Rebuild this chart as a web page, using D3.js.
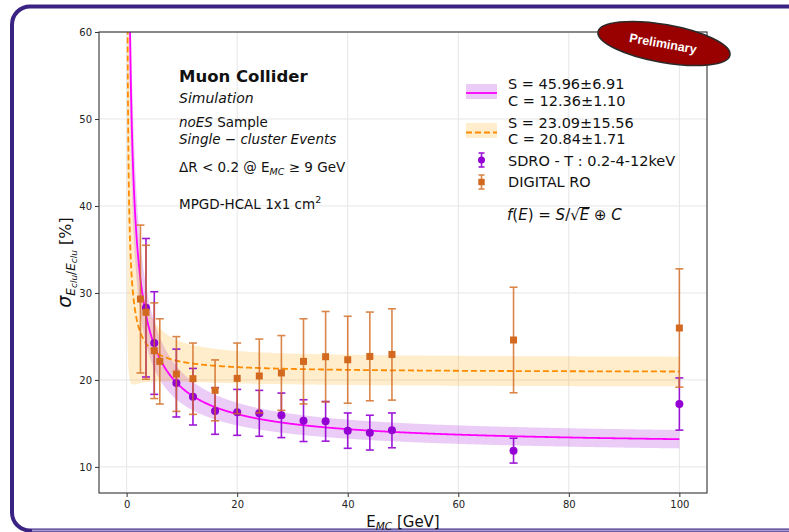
<!DOCTYPE html>
<html>
<head>
<meta charset="utf-8">
<script src="https://cdn.jsdelivr.net/npm/d3@7"></script>
<style>
  html, body { margin: 0; padding: 0; background: #fff; }
  svg { display: block; font-family: "DejaVu Sans", sans-serif; }
</style>
</head>
<body>
<svg id="chart" width="789" height="532"></svg>
<script>
// Energy resolution vs. beam energy, two read-out options
const sdroEnergy = [3.5, 5, 9, 12, 16, 20, 24, 28, 32, 36, 40, 44, 48, 70, 100];
const sdroRes    = [28.3, 24.24, 19.64, 18.07, 16.43, 16.27, 16.16, 15.93, 15.32, 15.24, 14.17, 13.94, 14.2, 11.87, 17.23];
const sdroErr    = [7.96, 5.9, 3.9, 3.25, 2.68, 2.64, 2.64, 2.56, 2.4, 2.28, 2.03, 2.0, 2.0, 1.43, 3.0];

const digitalEnergy = [2.5, 3.5, 5, 6, 9, 12, 16, 20, 24, 28, 32, 36, 40, 44, 48, 70, 100];
const digitalRes    = [29.3, 27.78, 23.36, 22.13, 20.68, 20.14, 18.8, 20.18, 20.45, 20.8, 22.13, 22.67, 22.32, 22.7, 22.93, 24.59, 25.97];
const digitalErr    = [8.5, 7.7, 5.5, 4.9, 4.3, 4.1, 3.5, 4.06, 4.25, 4.3, 4.9, 5.2, 5.0, 5.1, 5.25, 6.07, 6.8];

// Fit parameters [S, dS, C, dC] for f(E) = S/sqrt(E) (+) C
const sdroFit    = [45.96, 6.91, 12.36, 1.10];
const digitalFit = [23.09, 15.56, 20.84, 1.71];

const xTicks = [0, 20, 40, 60, 80, 100];
const yTicks = [10, 20, 30, 40, 50, 60];
const xDomain = [-5, 105];
const yDomain = [7, 60];

const svg = d3.select("#chart");

// outer rounded frame
svg.append("rect")
  .attr("x", 12).attr("y", 6.5).attr("width", 800).attr("height", 524)
  .attr("rx", 18).attr("fill", "#fff")
  .attr("stroke", "#3a2382").attr("stroke-width", 4);
svg.append("line")
  .attr("x1", 32).attr("x2", 789).attr("y1", 530.5).attr("y2", 530.5)
  .attr("stroke", "#a39bd0").attr("stroke-width", 2);

const L = 99, R = 707, T = 32, B = 493;
const x = d3.scaleLinear().domain(xDomain).range([L, R]);
const y = d3.scaleLinear().domain(yDomain).range([B, T]);

svg.append("defs").append("clipPath").attr("id", "plotClip")
  .append("rect").attr("x", L).attr("y", T).attr("width", R - L).attr("height", B - T);

// grid
const grid = svg.append("g");
grid.selectAll(".gx").data(xTicks).join("line")
  .attr("x1", d => x(d)).attr("x2", d => x(d)).attr("y1", T).attr("y2", B)
  .attr("stroke", "#e6e6e6").attr("stroke-width", 1);
grid.selectAll(".gy").data(yTicks).join("line")
  .attr("x1", L).attr("x2", R).attr("y1", d => y(d)).attr("y2", d => y(d))
  .attr("stroke", "#e6e6e6").attr("stroke-width", 1);

// fit curves with propagated uncertainty bands
function fitCurve(p) {
  const [S, dS, C, dC] = p;
  return d3.range(0.1, 100.0001, 0.1).map(E => {
    const f = Math.sqrt(S * S / E + C * C);
    const s = Math.sqrt(Math.pow(S / (E * f) * dS, 2) + Math.pow(C / f * dC, 2));
    return { E, f, s };
  });
}
const sdroCurve = fitCurve(sdroFit);
const digitalCurve = fitCurve(digitalFit);

const plot = svg.append("g").attr("clip-path", "url(#plotClip)");
const band = d3.area().x(d => x(d.E)).y0(d => y(d.f - d.s)).y1(d => y(d.f + d.s));
const line = d3.line().x(d => x(d.E)).y(d => y(d.f));

plot.append("path").attr("d", band(sdroCurve)).attr("fill", "rgba(148,0,211,0.2)");
plot.append("path").attr("d", band(digitalCurve)).attr("fill", "rgba(255,165,0,0.2)");
plot.append("path").attr("d", line(sdroCurve)).attr("fill", "none")
  .attr("stroke", "#ff00ff").attr("stroke-width", 1.8);
plot.append("path").attr("d", line(digitalCurve)).attr("fill", "none")
  .attr("stroke", "#ff8c00").attr("stroke-width", 1.8).attr("stroke-dasharray", "6,3");

// error bars + markers
function errorBars(g, E, V, Err, color, alpha) {
  const data = E.map((e, i) => ({ e, v: V[i], err: Err[i] }));
  const eg = g.append("g").attr("stroke", color).attr("stroke-width", 1.6).attr("opacity", alpha);
  eg.selectAll(".bar").data(data).join("line")
    .attr("x1", d => x(d.e)).attr("x2", d => x(d.e))
    .attr("y1", d => y(d.v - d.err)).attr("y2", d => y(d.v + d.err));
  eg.selectAll(".capTop").data(data).join("line")
    .attr("x1", d => x(d.e) - 4).attr("x2", d => x(d.e) + 4)
    .attr("y1", d => y(d.v + d.err)).attr("y2", d => y(d.v + d.err));
  eg.selectAll(".capBot").data(data).join("line")
    .attr("x1", d => x(d.e) - 4).attr("x2", d => x(d.e) + 4)
    .attr("y1", d => y(d.v - d.err)).attr("y2", d => y(d.v - d.err));
  return data;
}
const pts = svg.append("g").attr("clip-path", "url(#plotClip)");
const sdroData = errorBars(pts, sdroEnergy, sdroRes, sdroErr, "#9400d3", 0.9);
pts.selectAll(".sdro").data(sdroData).join("circle")
  .attr("cx", d => x(d.e)).attr("cy", d => y(d.v)).attr("r", 4)
  .attr("fill", "#9400d3");
const digData = errorBars(pts, digitalEnergy, digitalRes, digitalErr, "#d2691e", 0.8);
pts.selectAll(".dig").data(digData).join("rect")
  .attr("x", d => x(d.e) - 3.5).attr("y", d => y(d.v) - 3.5)
  .attr("width", 7).attr("height", 7).attr("fill", "#d2691e");

// axes
const xAxis = svg.append("g").attr("transform", `translate(0,${B})`)
  .call(d3.axisBottom(x).tickValues(xTicks).tickSize(4).tickPadding(4).tickFormat(d3.format("d")));
const yAxis = svg.append("g").attr("transform", `translate(${L},0)`)
  .call(d3.axisLeft(y).tickValues(yTicks).tickSize(4).tickPadding(3).tickFormat(d3.format("d")));
[xAxis, yAxis].forEach(a => {
  a.select(".domain").remove();
  a.selectAll("line").attr("stroke", "#333");
  a.selectAll("text").attr("font-family", "DejaVu Sans").attr("font-size", 10).attr("fill", "#222");
});
svg.append("rect").attr("x", L).attr("y", T).attr("width", R - L).attr("height", B - T)
  .attr("fill", "none").attr("stroke", "#444").attr("stroke-width", 1.2);

// axis titles
const xl = svg.append("text").attr("x", (L + R) / 2).attr("y", 527)
  .attr("text-anchor", "middle").attr("font-size", 15).attr("fill", "#111");
xl.append("tspan").text("E");
xl.append("tspan").attr("font-style", "italic").attr("font-size", 10.5).attr("dy", 3).text("MC");
xl.append("tspan").attr("dy", -3).text(" [GeV]");

const yl = svg.append("text")
  .attr("transform", `translate(71,${(T + B) / 2}) rotate(-90)`)
  .attr("text-anchor", "middle").attr("font-size", 16).attr("fill", "#111");
yl.append("tspan").attr("font-style", "italic").attr("font-size", 19).text("σ");
yl.append("tspan").attr("font-style", "italic").attr("font-size", 12).attr("dy", 4).text("E");
yl.append("tspan").attr("font-style", "italic").attr("font-size", 9).attr("dy", 2).text("clu");
yl.append("tspan").attr("font-size", 12).attr("dy", -2).text("/");
yl.append("tspan").attr("font-style", "italic").attr("font-size", 12).text("E");
yl.append("tspan").attr("font-style", "italic").attr("font-size", 9).attr("dy", 2).text("clu");
yl.append("tspan").attr("dy", -6).text("  [%]");

// annotation block
const ann = svg.append("g").attr("fill", "#111");
ann.append("text").attr("x", 179).attr("y", 82).attr("font-weight", "bold").attr("font-size", 16.5)
  .text("Muon Collider");
ann.append("text").attr("x", 179).attr("y", 103).attr("font-style", "italic").attr("font-size", 14)
  .text("Simulation");
const t3 = ann.append("text").attr("x", 179).attr("y", 127).attr("font-size", 13.5);
t3.append("tspan").attr("font-style", "italic").text("noES");
t3.append("tspan").text(" Sample");
ann.append("text").attr("x", 179).attr("y", 144).attr("font-style", "italic").attr("font-size", 13.5)
  .text("Single − cluster Events");
const t5 = ann.append("text").attr("x", 179).attr("y", 172).attr("font-size", 13.5);
t5.append("tspan").text("ΔR < 0.2 @ E");
t5.append("tspan").attr("font-style", "italic").attr("font-size", 9.5).attr("dy", 3).text("MC");
t5.append("tspan").attr("dy", -3).text(" ≥ 9 GeV");
const t6 = ann.append("text").attr("x", 179).attr("y", 209).attr("font-size", 13.5);
t6.append("tspan").text("MPGD-HCAL 1x1 cm");
t6.append("tspan").attr("font-size", 9.5).attr("dy", -6).text("2");

// legend
const lg = svg.append("g");
const hx = 466, hw = 31;
lg.append("rect").attr("x", hx).attr("y", 84).attr("width", hw).attr("height", 15)
  .attr("fill", "rgba(148,0,211,0.2)");
lg.append("line").attr("x1", hx).attr("x2", hx + hw).attr("y1", 93).attr("y2", 93)
  .attr("stroke", "#ff00ff").attr("stroke-width", 1.8);
lg.append("rect").attr("x", hx).attr("y", 123).attr("width", hw).attr("height", 15)
  .attr("fill", "rgba(255,165,0,0.2)");
lg.append("line").attr("x1", hx).attr("x2", hx + hw).attr("y1", 132.5).attr("y2", 132.5)
  .attr("stroke", "#ff8c00").attr("stroke-width", 1.8).attr("stroke-dasharray", "6,3");
function legendMarker(cy, color, alpha, shape) {
  const cx = hx + hw / 2;
  const g = lg.append("g").attr("stroke", color).attr("stroke-width", 1.6).attr("opacity", alpha);
  g.append("line").attr("x1", cx).attr("x2", cx).attr("y1", cy - 7).attr("y2", cy + 7);
  g.append("line").attr("x1", cx - 3).attr("x2", cx + 3).attr("y1", cy - 7).attr("y2", cy - 7);
  g.append("line").attr("x1", cx - 3).attr("x2", cx + 3).attr("y1", cy + 7).attr("y2", cy + 7);
  if (shape === "circle") lg.append("circle").attr("cx", cx).attr("cy", cy).attr("r", 3.5).attr("fill", color);
  else lg.append("rect").attr("x", cx - 3.2).attr("y", cy - 3.2).attr("width", 6.4).attr("height", 6.4).attr("fill", color);
}
legendMarker(160, "#9400d3", 0.9, "circle");
legendMarker(182, "#d2691e", 0.8, "square");

const fmt = v => v.toFixed(2);
const legendLines = [
  [89,  `S = ${fmt(sdroFit[0])}±${fmt(sdroFit[1])}`],
  [106, `C = ${fmt(sdroFit[2])}±${fmt(sdroFit[3])}`],
  [128, `S = ${fmt(digitalFit[0])}±${fmt(digitalFit[1])}`],
  [144, `C = ${fmt(digitalFit[2])}±${fmt(digitalFit[3])}`],
  [166, "SDRO - T : 0.2-4-12keV"],
  [187, "DIGITAL RO"]
];
lg.selectAll(".lt").data(legendLines).join("text")
  .attr("x", 508).attr("y", d => d[0]).attr("font-size", 14.5).attr("fill", "#111")
  .text(d => d[1]);

// resolution function
const fx = lg.append("text").attr("x", 507).attr("y", 220).attr("font-size", 15).attr("fill", "#111");
fx.append("tspan").attr("font-style", "italic").text("f");
fx.append("tspan").text("(");
fx.append("tspan").attr("font-style", "italic").text("E");
fx.append("tspan").text(") = ");
fx.append("tspan").attr("font-style", "italic").text("S");
fx.append("tspan").text("/√");
fx.append("tspan").attr("font-style", "italic").text("E");
fx.append("tspan").text(" ⊕ ");
fx.append("tspan").attr("font-style", "italic").text("C");
{
  const node = fx.node();
  const str = node.textContent;
  const ir = str.indexOf("√");
  const er = node.getExtentOfChar(ir);
  const ee = node.getExtentOfChar(ir + 1);
  lg.append("line").attr("x1", er.x + er.width - 0.5).attr("x2", ee.x + ee.width + 0.5)
    .attr("y1", er.y + 1.5).attr("y2", er.y + 1.5)
    .attr("stroke", "#111").attr("stroke-width", 1);
}

// preliminary badge
const badge = svg.append("g").attr("transform", "translate(664,43.5) rotate(10)");
badge.append("ellipse").attr("rx", 67).attr("ry", 19)
  .attr("fill", "#990000").attr("stroke", "#2a2a2a").attr("stroke-width", 1.5);
badge.append("text").attr("x", -1).attr("y", 4.5).attr("text-anchor", "middle")
  .attr("font-family", "Liberation Sans, Arial, sans-serif").attr("font-weight", "bold")
  .attr("font-size", 12.5).attr("fill", "#fff").text("Preliminary");
</script>
</body>
</html>
